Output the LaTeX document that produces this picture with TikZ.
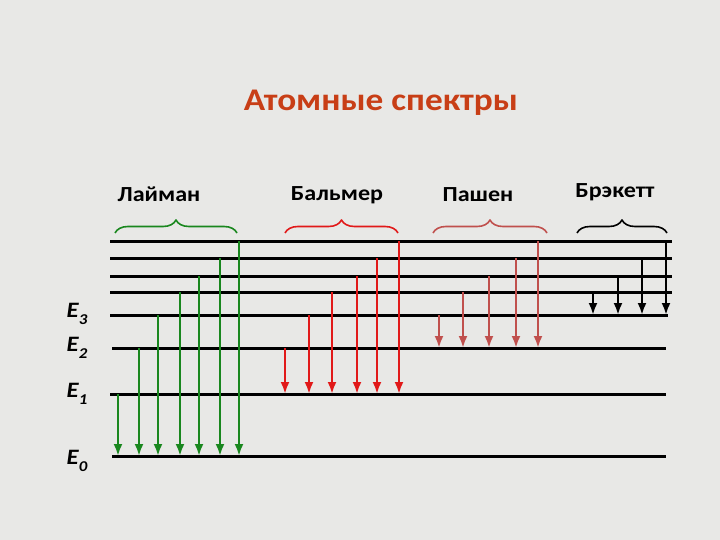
\documentclass[tikz,border=0pt]{standalone}
\usepackage{fontspec}
\setmainfont{Carlito}[FakeStretch=1.12]
\usetikzlibrary{arrows.meta,decorations.pathreplacing}

\begin{document}
\begin{tikzpicture}[
  x=1pt, y=-1pt, % pixel size, y runs downward
  line join=round,
  level/.style={line width=3pt},
  trans/.style={line width=2.8pt, -{Latex[length=12pt,width=9pt]}},
  series/.style={font=\fontsize{21.5}{24}\selectfont\bfseries, inner sep=1pt},
  elabel/.style={font=\fontsize{22}{24}\selectfont\bfseries\itshape, inner sep=1pt},
  bracket/.style={line width=1.6pt, decorate, decoration={brace, amplitude=13pt}}
]
  % ---- colours ----
  \definecolor{slide}{RGB}{232,232,230}
  \definecolor{lymangreen}{RGB}{25,135,30}
  \definecolor{balmerred}{RGB}{225,25,25}
  \definecolor{paschenred}{RGB}{192,80,77}
  \definecolor{titlered}{RGB}{200,62,22}

  % ---- background ----
  \fill[slide] (0,0) rectangle (720,540);
  \useasboundingbox (0,0) rectangle (720,540);

  % ---- title ----
  \node[font=\fontsize{31.5}{34}\selectfont\bfseries, text=titlered] (title) at (381,103) {Атомные спектры};

  % ---- energy levels: index/y ----
  \foreach \n/\y in {0/456,1/394,2/348,3/315,4/292,5/276,6/258,7/241} {
    \coordinate (L\n) at (0,\y);
  }
  \foreach \n/\xa/\xb in {0/112/666,1/110/666,2/112/666,3/110/668,
                         4/110/672,5/110/672,6/110/672,7/110/672} {
    \draw[level] (\xa,0 |- L\n) -- (\xb,0 |- L\n);
  }

  % level names
  \node[elabel] (E3) at (77,314) {E\raisebox{-0.6ex}{\fontsize{15}{15}\selectfont 3}};
  \node[elabel] (E2) at (77,348) {E\raisebox{-0.6ex}{\fontsize{15}{15}\selectfont 2}};
  \node[elabel] (E1) at (77,394) {E\raisebox{-0.6ex}{\fontsize{15}{15}\selectfont 1}};
  \node[elabel] (E0) at (77,461) {E\raisebox{-0.6ex}{\fontsize{15}{15}\selectfont 0}};

  % ---- series names ----
  \node[series] (lyman)    at (159,194) {Лайман};
  \node[series] (balmer)   at (337,195) {Бальмер};
  \node[series] (paschen)  at (478,195) {Пашен};
  \node[series] (brackett) at (615,192) {Брэкетт};

  % braces under the names
  \draw[bracket, lymangreen] (115,233) -- (237,233);
  \draw[bracket, balmerred]  (285,233) -- (398,233);
  \draw[bracket, paschenred] (433,233) -- (547,233);
  \draw[bracket, black]      (577,233) -- (667,233);

  % ---- transitions: x/upper level ----
  % Lyman -> E0
  \foreach \x/\n in {118/1,139/2,158/3,180/4,199/5,220/6,239/7} {
    \draw[trans, lymangreen] (\x,0 |- L\n) -- (\x,0 |- L0);
  }
  % Balmer -> E1
  \foreach \x/\n in {285/2,309/3,332/4,357/5,377/6,399/7} {
    \draw[trans, balmerred] (\x,0 |- L\n) -- (\x,0 |- L1);
  }
  % Paschen -> E2
  \foreach \x/\n in {439/3,463/4,489/5,516/6,538/7} {
    \draw[trans, paschenred] (\x,0 |- L\n) -- (\x,0 |- L2);
  }
  % Brackett -> E3
  \foreach \x/\n in {593/4,618/5,642/6,666/7} {
    \draw[trans, black, line width=2.4pt] (\x,0 |- L\n) -- (\x,0 |- L3);
  }

\end{tikzpicture}
\end{document}
